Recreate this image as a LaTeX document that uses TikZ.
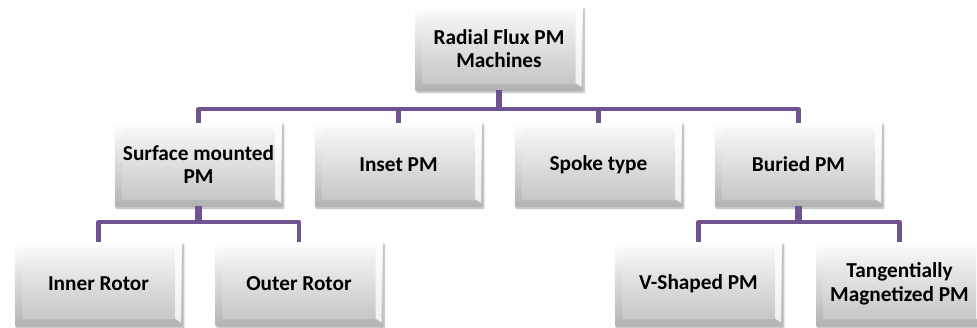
\documentclass[tikz,border=0pt]{standalone}
\usepackage{fontspec}
\setmainfont{Carlito}
\usetikzlibrary{shadows.blur}
\definecolor{conncol}{RGB}{112,84,145}
\tikzset{
  bx/.style={minimum width=167pt, minimum height=83pt, inner sep=2pt, align=center,
    font=\bfseries\fontsize{21.3}{23.5}\selectfont,
    top color=white, bottom color=black!30,
    blur shadow={shadow xshift=1.5pt, shadow yshift=-2pt, shadow blur steps=6, shadow opacity=35},
    path picture={
      \shade[top color=black!2, bottom color=black!24]
        ([shift={(7pt,-7pt)}]path picture bounding box.north west) rectangle
        ([shift={(-7pt,7pt)}]path picture bounding box.south east);
      \fill[white,opacity=0.8]
        ([shift={(-7pt,-7pt)}]path picture bounding box.north east) --
        ([shift={(-1pt,-3pt)}]path picture bounding box.north east) --
        ([shift={(-1pt,3pt)}]path picture bounding box.south east) --
        ([shift={(-7pt,7pt)}]path picture bounding box.south east) -- cycle;
    }},
  conn/.style={draw=conncol, line width=4.5pt, line join=round},
  stub/.style={draw=conncol, line width=6.5pt}
}
\begin{document}
\begin{tikzpicture}[x=1pt,y=-1pt]
\useasboundingbox (0,0) rectangle (977,327);
% top
\node[bx] (top) at (499,48.5) {Radial Flux PM\\Machines};
% row 2
\node[bx] (surf) at (198.5,164.5) {Surface mounted\\PM};
\node[bx] (inset) at (398.5,164.5) {Inset PM};
\node[bx] (spoke) at (598.5,164.5) {Spoke type};
\node[bx] (buried) at (798.5,164.5) {Buried PM};
% row 3
\node[bx] (inner) at (98.5,284) {Inner Rotor};
\node[bx] (outer) at (299,284) {Outer Rotor};
\node[bx] (vshape) at (698.5,284) {V-Shaped PM};
\node[bx] (tang) at (899.5,284) {Tangentially\\Magnetized PM};
% connectors
\draw[stub] (top.south) -- ++(0,19) coordinate (b0);
\draw[conn] (b0) -| (surf.north);
\draw[conn] (b0) -| (inset.north);
\draw[conn] (b0) -| (spoke.north);
\draw[conn] (b0) -| (buried.north);
\draw[stub] (surf.south) -- ++(0,16) coordinate (b1);
\draw[conn] (b1) -| (inner.north);
\draw[conn] (b1) -| (outer.north);
\draw[stub] (buried.south) -- ++(0,16) coordinate (b2);
\draw[conn] (b2) -| (vshape.north);
\draw[conn] (b2) -| (tang.north);
\end{tikzpicture}
\end{document}
